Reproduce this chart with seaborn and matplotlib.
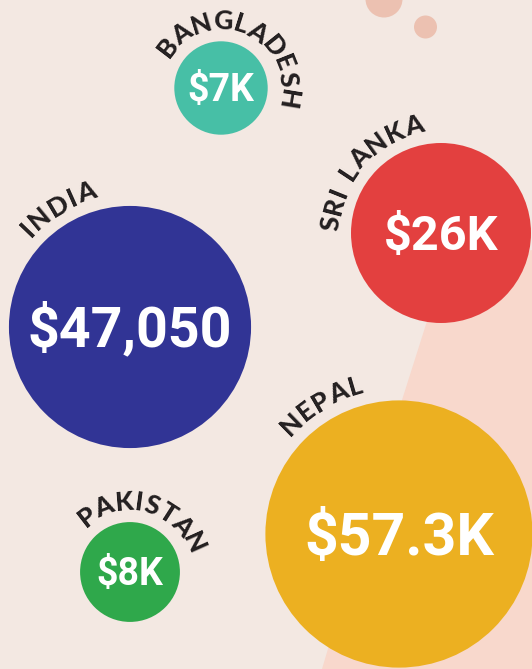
import numpy as np
import matplotlib
matplotlib.use("Agg")
import matplotlib.pyplot as plt
from matplotlib.patches import Circle, Polygon
from matplotlib.font_manager import FontProperties
import seaborn as sns
import pandas as pd

# data
countries = ["BANGLADESH", "SRI LANKA", "INDIA", "NEPAL", "PAKISTAN"]
values = [7000, 26000, 47050, 57300, 8000]
value_labels = ["$7K", "$26K", "$47,050", "$57.3K", "$8K"]
colors = ["#47bfa6", "#e3403f", "#313495", "#ecb021", "#2fa84b"]

# layout (pixel space, y pointing down)
cx = [221, 441, 130, 399, 130]
cy = [88, 233, 327, 534, 572]
label_angle = [66, 139, 121, 121, 75]
value_size = [27, 35, 40, 42.5, 27]

BG = "#f3e8e2"
DPI = 100
K = 17.65  # radius in px per sqrt(thousand dollars)

df = pd.DataFrame({"country": countries, "value": values, "x": cx, "y": cy})

fig = plt.figure(figsize=(5.32, 6.69), dpi=DPI, facecolor=BG)
ax = fig.add_axes([0, 0, 1, 1])
ax.set_facecolor(BG)

# background decoration
blob = [(322, 669), (402, 400), (428, 318), (445, 285), (480, 262), (532, 250), (532, 669)]
ax.add_patch(Polygon(blob, closed=True, facecolor="#f8d8cc", edgecolor="none", zorder=0))
ax.add_patch(Circle((384, -1), 18.5, facecolor="#ecc1b1", edgecolor="none", zorder=0))
ax.add_patch(Circle((425.5, 27), 11.5, facecolor="#ecc1b1", edgecolor="none", zorder=0))

# bubbles: area proportional to value
vmax = max(values)
d_max = 2 * K * np.sqrt(vmax / 1000) * 72 / DPI
sns.scatterplot(data=df, x="x", y="y", hue="country", palette=dict(zip(countries, colors)),
                size="value", sizes=(0, d_max ** 2), size_norm=(0, vmax),
                linewidth=0, alpha=1, legend=False, ax=ax, zorder=2)
ax.set_xlim(0, 532)
ax.set_ylim(669, 0)
ax.set_aspect("equal")
ax.axis("off")

# value labels
for x, y, lab, fs in zip(cx, cy, value_labels, value_size):
    em = fs * DPI / 72
    ax.text(x, y + 0.355 * em, lab, ha="center", va="baseline", fontsize=fs,
            family="Roboto", fontweight="bold", color="white", zorder=3)

# curved country names
renderer = fig.canvas.get_renderer()
LABEL_FS = 19
fp = FontProperties(family="Lato", weight=900, size=LABEL_FS)
em = LABEL_FS * DPI / 72
track = 2.0


def curved_text(text, x0, y0, radius, angle):
    widths = []
    for ch in text:
        if ch == " ":
            widths.append(0.28 * em)
        else:
            w, h, d = renderer.get_text_width_height_descent(ch, fp, ismath=False)
            widths.append(w)
    widths = np.array(widths)
    total = widths.sum() + track * (len(text) - 1)
    start = np.deg2rad(angle) + total / 2 / radius
    pos = 0
    for ch, w in zip(text, widths):
        th = start - (pos + w / 2) / radius
        pos += w + track
        if ch == " ":
            continue
        ax.text(x0 + radius * np.cos(th), y0 - radius * np.sin(th), ch,
                rotation=np.rad2deg(th) - 90, rotation_mode="anchor",
                ha="center", va="center", fontproperties=fp, color="#231f20", zorder=3)


for name, v, x, y, a in zip(countries, values, cx, cy, label_angle):
    r = K * np.sqrt(v / 1000)
    curved_text(name, x, y, r + 20, a)

fig.savefig("out.png", dpi=DPI, facecolor=BG)
